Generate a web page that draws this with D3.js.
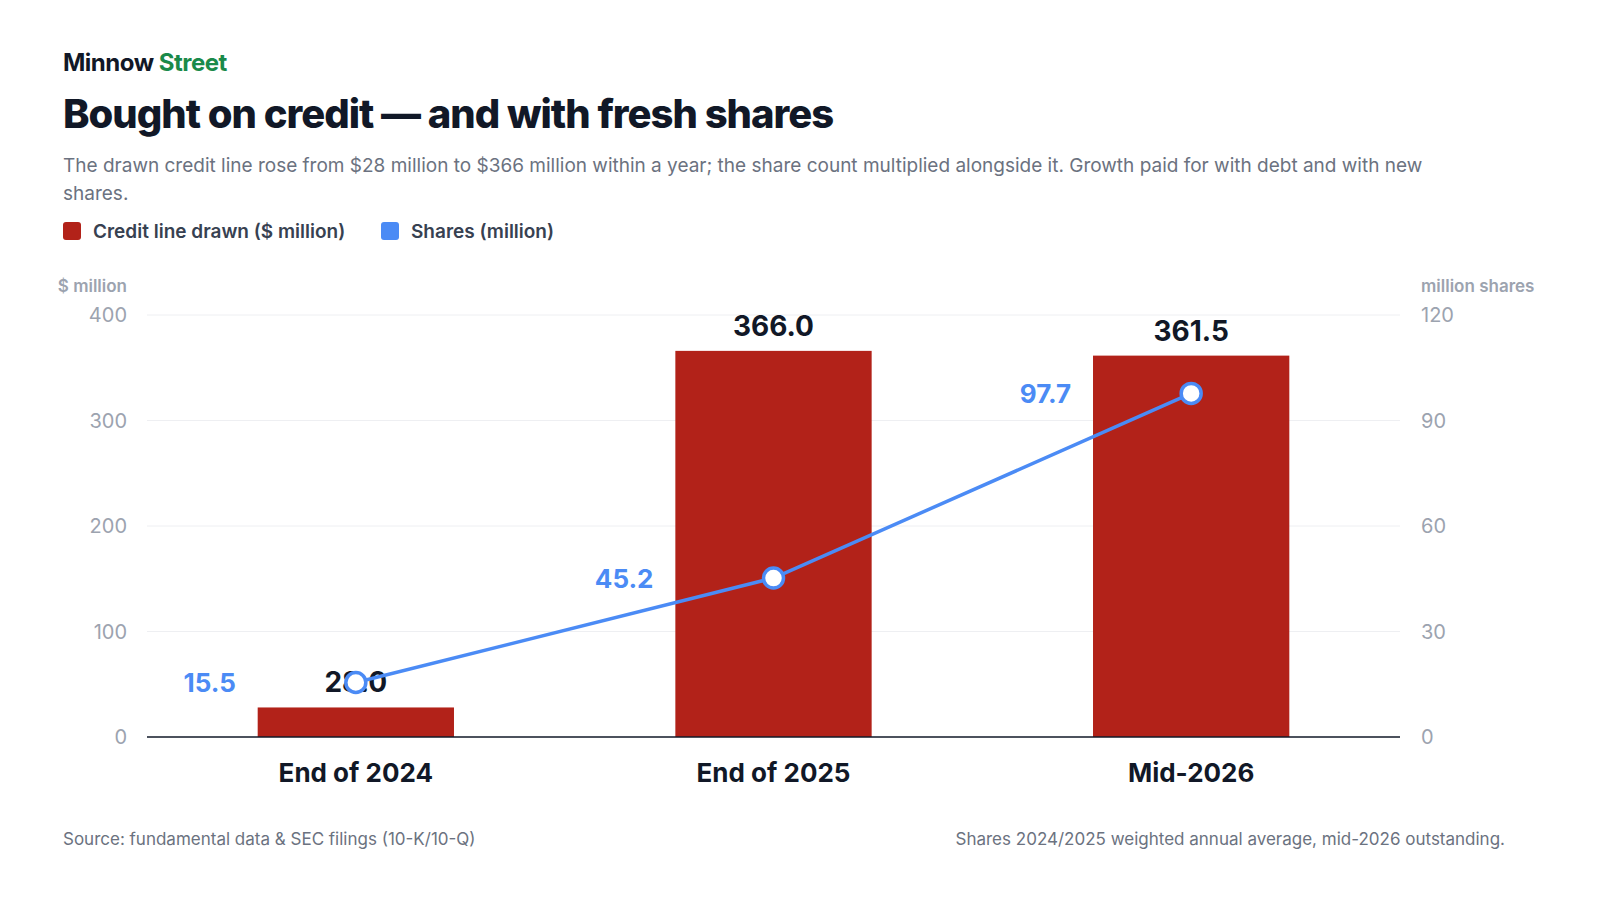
<!DOCTYPE html>
<html><head><meta charset="utf-8">
<script src="https://cdn.jsdelivr.net/npm/d3@7"></script>
<style>body{margin:0;background:#fff;font-family:Inter,"Noto Sans",sans-serif}</style>
</head><body><svg id="c" width="1600" height="900"></svg>
<script>
const categories=["End of 2024","End of 2025","Mid-2026"];
const credit=[28.0,366.0,361.5];
const shares=[15.5,45.2,97.7];
const leftTicks=[0,100,200,300,400];
const rightTicks=[0,30,60,90,120];
const svg=d3.select("#c");
const x=d3.scaleBand().domain(categories).range([147,1400]).paddingInner(0.53).paddingOuter(0.265);
const yL=d3.scaleLinear().domain([0,400]).range([737,315]);
const yR=d3.scaleLinear().domain([0,120]).range([737,315]);
const t=(x0,y0,s,o)=>{const e=svg.append("text").attr("x",x0).attr("y",y0).text(s);for(const k in o)e.attr(k,o[k]);return e;};
const h=svg.append("text").attr("x",63).attr("y",71).attr("font-size",24).attr("font-weight",700).attr("fill","#111827").attr("letter-spacing","-0.5");
h.append("tspan").text("Minnow ");h.append("tspan").attr("fill","#1a8a4a").text("Street");
t(63,128,"Bought on credit — and with fresh shares",{"font-size":40,"font-weight":800,fill:"#111827","letter-spacing":"-1"});
t(63,172,"The drawn credit line rose from $28 million to $366 million within a year; the share count multiplied alongside it. Growth paid for with debt and with new",{"font-size":19,fill:"#6b7280"});
t(63,200,"shares.",{"font-size":19,fill:"#6b7280"});
svg.append("rect").attr("x",63).attr("y",222).attr("width",18).attr("height",18).attr("rx",3).attr("fill","#b22219");
t(93,238,"Credit line drawn ($ million)",{"font-size":19,"font-weight":600,fill:"#374151"});
svg.append("rect").attr("x",381).attr("y",222).attr("width",18).attr("height",18).attr("rx",3).attr("fill","#4b8bf5");
t(411,238,"Shares (million)",{"font-size":19,"font-weight":600,fill:"#374151"});
t(127,292,"$ million",{"font-size":17,"font-weight":600,fill:"#9ca3af","text-anchor":"end"});
t(1421,292,"million shares",{"font-size":17,"font-weight":600,fill:"#9ca3af"});
leftTicks.forEach(v=>{
  if(v>0)svg.append("line").attr("x1",147).attr("x2",1400).attr("y1",yL(v)).attr("y2",yL(v)).attr("stroke","#eeeff2");
  t(127,yL(v)+7,v,{"font-size":20,fill:"#9ca3af","text-anchor":"end"});
});
rightTicks.forEach(v=>t(1421,yR(v)+7,v,{"font-size":20,fill:"#9ca3af"}));
svg.selectAll(".bar").data(credit).join("rect").attr("x",(d,i)=>x(categories[i])).attr("width",x.bandwidth())
 .attr("y",d=>yL(d)).attr("height",d=>737-yL(d)).attr("fill","#b22219");
svg.append("line").attr("x1",147).attr("x2",1400).attr("y1",737).attr("y2",737).attr("stroke","#111827").attr("stroke-width",1.5);
credit.forEach((d,i)=>t(x(categories[i])+x.bandwidth()/2,yL(d)-15,d.toFixed(1),{"font-size":28,"font-weight":700,fill:"#111827","text-anchor":"middle"}));
categories.forEach(c=>t(x(c)+x.bandwidth()/2,782,c,{"font-size":26,"font-weight":700,fill:"#111827","text-anchor":"middle"}));
const cx=i=>x(categories[i])+x.bandwidth()/2;
svg.append("path").datum(shares).attr("d",d3.line().x((d,i)=>cx(i)).y(d=>yR(d))).attr("fill","none").attr("stroke","#4b8bf5").attr("stroke-width",3.5);
shares.forEach((d,i)=>{
  svg.append("circle").attr("cx",cx(i)).attr("cy",yR(d)).attr("r",10).attr("fill","#fff").attr("stroke","#4b8bf5").attr("stroke-width",3.5);
  t(cx(i)-120,yR(d)+10,d.toFixed(1),{"font-size":26,"font-weight":700,fill:"#4b8bf5","text-anchor":"end"});
});
t(63,845,"Source: fundamental data & SEC filings (10-K/10-Q)",{"font-size":17,fill:"#6b7280"});
t(1505,845,"Shares 2024/2025 weighted annual average, mid-2026 outstanding.",{"font-size":17,fill:"#6b7280","text-anchor":"end"});
</script></body></html>
